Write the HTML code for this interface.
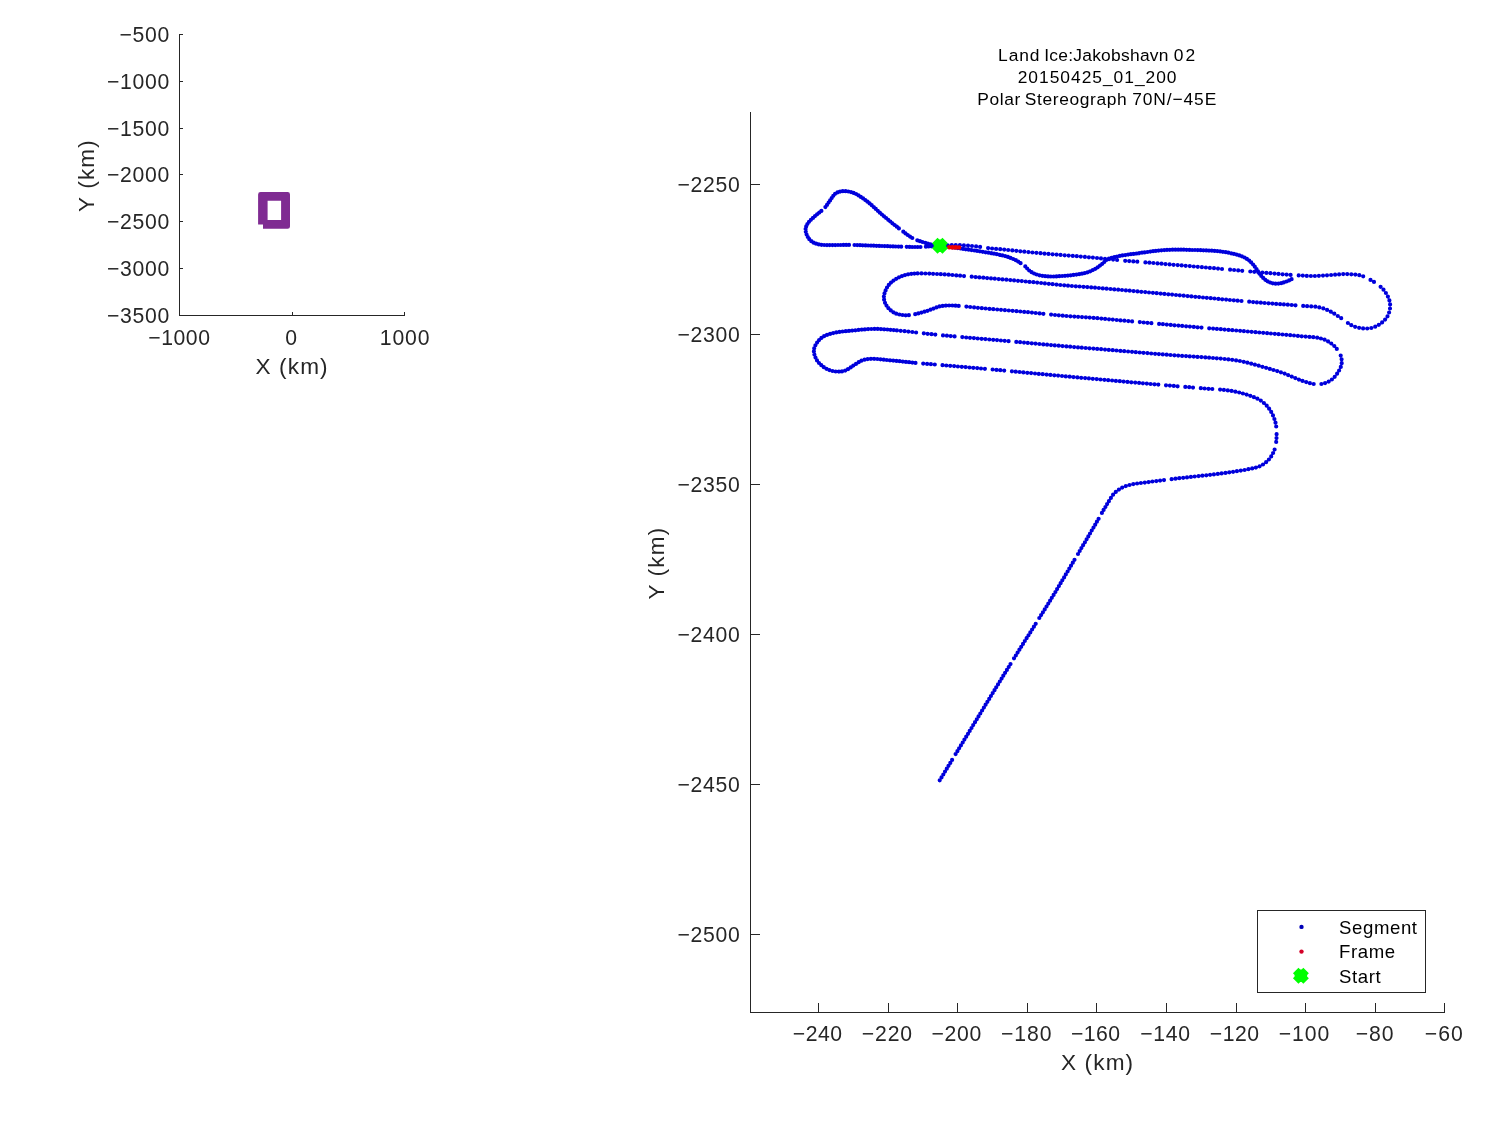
<!DOCTYPE html>
<html><head><meta charset="utf-8"><title>Land Ice: Jakobshavn 02</title>
<style>html,body{margin:0;padding:0;background:#fff;}body{width:1500px;height:1125px;overflow:hidden;}svg{display:block;will-change:transform;font-family:'Liberation Sans', sans-serif;}text{white-space:pre;}</style></head><body>
<svg width="1500" height="1125" viewBox="0 0 1500 1125">
<rect width="1500" height="1125" fill="#fff"/>
<g stroke="#262626" stroke-width="1" fill="none" shape-rendering="crispEdges">
<path d="M179.5 33.9V315.3H405.3"/>
<path d="M179.5 34.4h3.5"/>
<path d="M179.5 81.2h3.5"/>
<path d="M179.5 128.0h3.5"/>
<path d="M179.5 174.9h3.5"/>
<path d="M179.5 221.7h3.5"/>
<path d="M179.5 268.5h3.5"/>
<path d="M179.5 315.3h3.5"/>
<path d="M179.5 315.3v-3.5"/>
<path d="M292.3 315.3v-3.5"/>
<path d="M404.8 315.3v-3.5"/>
</g>
<text x="170.02" y="41.90" font-size="21.20" text-anchor="end" letter-spacing="0.72" fill="#262626">−500</text>
<text x="170.02" y="88.72" font-size="21.20" text-anchor="end" letter-spacing="0.72" fill="#262626">−1000</text>
<text x="170.02" y="135.53" font-size="21.20" text-anchor="end" letter-spacing="0.72" fill="#262626">−1500</text>
<text x="170.02" y="182.35" font-size="21.20" text-anchor="end" letter-spacing="0.72" fill="#262626">−2000</text>
<text x="170.02" y="229.17" font-size="21.20" text-anchor="end" letter-spacing="0.72" fill="#262626">−2500</text>
<text x="170.02" y="275.98" font-size="21.20" text-anchor="end" letter-spacing="0.72" fill="#262626">−3000</text>
<text x="170.02" y="322.80" font-size="21.20" text-anchor="end" letter-spacing="0.72" fill="#262626">−3500</text>
<text x="148.24" y="344.50" font-size="21.20" text-anchor="start" letter-spacing="0.56" fill="#262626">−1000</text>
<text x="285.25" y="344.50" font-size="21.20" text-anchor="start" fill="#262626">0</text>
<text x="379.71" y="344.50" font-size="21.20" text-anchor="start" letter-spacing="0.89" fill="#262626">1000</text>
<text x="292.10" y="373.90" font-size="22.60" text-anchor="middle" letter-spacing="1.15" fill="#262626">X (km)</text>
<text x="94.30" y="175.50" font-size="22.60" text-anchor="middle" letter-spacing="1.15" fill="#262626" transform="rotate(-90 94.30 175.50)">Y (km)</text>
<path fill="#7f2b92" fill-rule="evenodd" d="M260.6 192H287.6Q290 192 290 194.4V226.6Q290 228.8 287.6 228.8H263V224.6H258.1V194.4Q258.1 192 260.6 192ZM267.6 200.7V220.1H281.1V200.7Z"/>
<g stroke="#262626" stroke-width="1" fill="none" shape-rendering="crispEdges">
<path d="M750.5 112.0V1012.3H1445.4"/>
<path d="M750.5 184.3h9.5"/>
<path d="M750.5 334.3h9.5"/>
<path d="M750.5 484.3h9.5"/>
<path d="M750.5 634.3h9.5"/>
<path d="M750.5 784.3h9.5"/>
<path d="M750.5 934.3h9.5"/>
<path d="M818.4 1012.3v-9.5"/>
<path d="M888.0 1012.3v-9.5"/>
<path d="M957.6 1012.3v-9.5"/>
<path d="M1027.2 1012.3v-9.5"/>
<path d="M1096.8 1012.3v-9.5"/>
<path d="M1166.5 1012.3v-9.5"/>
<path d="M1236.1 1012.3v-9.5"/>
<path d="M1305.7 1012.3v-9.5"/>
<path d="M1375.3 1012.3v-9.5"/>
<path d="M1444.9 1012.3v-9.5"/>
</g>
<text x="740.52" y="192.10" font-size="21.20" text-anchor="end" letter-spacing="0.72" fill="#262626">−2250</text>
<text x="740.52" y="342.10" font-size="21.20" text-anchor="end" letter-spacing="0.72" fill="#262626">−2300</text>
<text x="740.52" y="492.10" font-size="21.20" text-anchor="end" letter-spacing="0.72" fill="#262626">−2350</text>
<text x="740.52" y="642.10" font-size="21.20" text-anchor="end" letter-spacing="0.72" fill="#262626">−2400</text>
<text x="740.52" y="792.10" font-size="21.20" text-anchor="end" letter-spacing="0.72" fill="#262626">−2450</text>
<text x="740.52" y="942.10" font-size="21.20" text-anchor="end" letter-spacing="0.72" fill="#262626">−2500</text>
<text x="792.84" y="1041.10" font-size="21.20" text-anchor="start" letter-spacing="0.50" fill="#262626">−240</text>
<text x="861.84" y="1041.10" font-size="21.20" text-anchor="start" letter-spacing="0.83" fill="#262626">−220</text>
<text x="931.44" y="1041.10" font-size="21.20" text-anchor="start" letter-spacing="0.73" fill="#262626">−200</text>
<text x="1000.94" y="1041.10" font-size="21.20" text-anchor="start" letter-spacing="0.93" fill="#262626">−180</text>
<text x="1070.94" y="1041.10" font-size="21.20" text-anchor="start" letter-spacing="0.47" fill="#262626">−160</text>
<text x="1140.24" y="1041.10" font-size="21.20" text-anchor="start" letter-spacing="0.70" fill="#262626">−140</text>
<text x="1209.84" y="1041.10" font-size="21.20" text-anchor="start" letter-spacing="0.53" fill="#262626">−120</text>
<text x="1278.74" y="1041.10" font-size="21.20" text-anchor="start" letter-spacing="0.97" fill="#262626">−100</text>
<text x="1355.74" y="1041.10" font-size="21.20" text-anchor="start" letter-spacing="0.88" fill="#262626">−80</text>
<text x="1424.64" y="1041.10" font-size="21.20" text-anchor="start" letter-spacing="1.13" fill="#262626">−60</text>
<text x="1097.60" y="1070.40" font-size="22.60" text-anchor="middle" letter-spacing="1.15" fill="#262626">X (km)</text>
<text x="664.30" y="563.10" font-size="22.60" text-anchor="middle" letter-spacing="1.15" fill="#262626" transform="rotate(-90 664.30 563.10)">Y (km)</text>
<text x="998.11" y="61.00" font-size="17.40" text-anchor="start" letter-spacing="0.90" fill="#000">Land</text>
<text x="1044.13" y="61.00" font-size="17.40" text-anchor="start" letter-spacing="0.27" fill="#000">Ice:Jakobshavn</text>
<text x="1173.80" y="61.00" font-size="17.40" text-anchor="start" letter-spacing="1.95" fill="#000">02</text>
<text x="1017.73" y="83.00" font-size="17.40" text-anchor="start" letter-spacing="0.98" fill="#000">20150425_01_200</text>
<text x="977.21" y="105.00" font-size="17.40" text-anchor="start" letter-spacing="0.63" fill="#000">Polar</text>
<text x="1024.82" y="105.00" font-size="17.40" text-anchor="start" letter-spacing="0.61" fill="#000">Stereograph</text>
<text x="1132.13" y="105.00" font-size="17.40" text-anchor="start" letter-spacing="0.90" fill="#000">70N/−45E</text>
<path d="M1291.6 279.2h0M1289.1 280.4h0M1286.5 281.5h0M1283.8 282.4h0M1281.2 283.2h0M1278.4 283.6h0M1275.6 283.7h0M1272.8 283.3h0M1270.1 282.5h0M1267.6 281.3h0M1265.3 279.8h0M1263.2 277.9h0M1261.3 275.9h0M1259.5 273.7h0M1258.0 271.3h0M1256.5 269.0h0M1254.8 266.7h0M1253.1 264.5h0M1251.2 262.4h0M1249.2 260.6h0M1246.9 258.9h0M1244.5 257.5h0M1241.9 256.3h0M1239.3 255.4h0M1236.6 254.6h0M1233.9 253.9h0M1231.2 253.3h0M1228.4 252.7h0M1225.7 252.2h0M1222.9 251.8h0M1220.1 251.4h0M1217.3 251.1h0M1214.6 250.9h0M1211.8 250.7h0M1209.0 250.6h0M1206.2 250.4h0M1203.4 250.3h0M1200.6 250.2h0M1197.8 250.1h0M1195.0 250.0h0M1192.2 250.0h0M1189.4 249.9h0M1186.6 249.8h0M1183.8 249.7h0M1181.0 249.7h0M1178.2 249.7h0M1175.4 249.7h0M1172.6 249.7h0M1169.8 249.8h0M1167.0 249.9h0M1164.2 250.1h0M1161.4 250.3h0M1158.6 250.6h0M1155.8 250.9h0M1153.1 251.2h0M1150.3 251.6h0M1147.5 252.0h0M1144.7 252.4h0M1142.0 252.7h0M1139.2 253.1h0M1136.4 253.5h0M1133.6 253.9h0M1130.9 254.2h0M1128.1 254.6h0M1125.3 255.1h0M1122.5 255.4h0M1119.8 255.9h0M1117.0 256.5h0M1114.3 257.2h0M1111.6 257.9h0M1108.9 258.7h0M1106.4 259.9h0M1104.3 261.9h0M1102.3 263.8h0M1100.0 265.6h0M1097.7 267.3h0M1095.3 268.8h0M1092.8 270.1h0M1090.2 271.3h0M1087.5 272.3h0M1084.8 273.1h0M1082.0 273.7h0M1079.2 274.2h0M1076.4 274.6h0M1073.5 274.9h0M1070.7 275.3h0M1067.9 275.6h0M1065.0 275.8h0M1062.2 276.0h0M1059.3 276.2h0M1056.5 276.4h0M1053.7 276.5h0M1050.8 276.5h0M1048.0 276.4h0M1045.1 276.2h0M1042.3 275.8h0M1039.5 275.3h0M1036.7 274.5h0M1034.1 273.5h0M1031.6 272.2h0M1029.2 270.5h0M1027.2 268.5h0M1025.3 266.4h0M1020.6 263.2h0M1018.2 261.6h0M1015.8 260.2h0M1013.2 259.0h0M1010.5 257.9h0M1007.9 256.9h0M1005.1 256.1h0M1002.4 255.4h0M999.6 254.8h0M996.8 254.2h0M994.0 253.7h0M991.2 253.2h0M988.4 252.7h0M985.6 252.3h0M982.8 251.8h0M979.9 251.3h0M977.1 250.9h0M974.3 250.5h0M971.5 250.1h0M968.7 249.7h0M965.8 249.3h0M963.1 248.9h0M960.4 248.5h0M957.7 248.1h0M955.0 247.7h0M952.2 247.3h0M949.5 246.9h0M946.8 246.5h0M944.1 246.2h0M941.3 245.8h0M938.6 245.4h0M935.9 245.1h0M933.2 244.8h0M930.5 244.3h0M927.8 243.6h0M925.2 242.8h0M922.5 242.0h0M919.9 241.2h0M917.3 240.3h0M912.3 238.0h0M910.0 236.6h0M907.7 235.0h0M905.5 233.4h0M903.3 231.7h0M898.9 228.4h0M896.8 226.7h0M894.6 225.0h0M892.4 223.3h0M890.3 221.5h0M888.2 219.8h0M886.1 218.0h0M884.0 216.3h0M881.9 214.5h0M879.8 212.7h0M877.8 210.8h0M875.8 208.9h0M873.7 207.1h0M871.7 205.2h0M869.6 203.4h0M867.5 201.7h0M865.3 200.1h0M863.1 198.4h0M860.8 196.9h0M858.5 195.4h0M856.1 194.0h0M853.6 192.9h0M851.0 192.1h0M848.3 191.5h0M845.6 191.2h0M842.8 191.2h0M840.1 191.6h0M837.5 192.4h0M835.1 193.8h0M833.3 195.8h0M831.7 198.1h0M830.1 200.4h0M828.6 202.6h0M827.0 204.9h0M825.4 207.1h0M821.4 210.9h0M819.3 212.6h0M817.1 214.3h0M815.0 216.1h0M813.0 217.9h0M810.9 219.8h0M809.0 221.8h0M807.4 224.0h0M806.2 226.4h0M805.6 229.1h0M805.8 231.8h0M806.6 234.5h0M807.8 237.0h0M809.3 239.2h0M811.3 241.2h0M813.6 242.7h0M816.1 243.7h0M818.8 244.4h0M821.5 244.8h0M824.2 245.0h0M827.0 245.1h0M829.7 245.1h0M832.5 245.1h0M835.2 245.1h0M838.0 245.0h0M840.7 245.0h0M843.5 244.9h0M846.2 244.9h0M849.0 244.9h0M854.5 245.0h0M857.2 245.1h0M860.0 245.2h0M862.7 245.3h0M865.5 245.4h0M868.2 245.5h0M871.0 245.6h0M873.7 245.7h0M876.5 245.8h0M879.2 245.9h0M882.0 246.0h0M884.7 246.1h0M887.5 246.2h0M890.2 246.3h0M893.0 246.4h0M895.7 246.5h0M898.5 246.6h0M901.2 246.7h0M906.7 246.8h0M909.5 246.9h0M912.2 247.0h0M915.0 247.0h0M917.7 247.0h0M920.5 247.0h0M925.9 246.7h0M928.7 246.5h0M931.4 246.3h0M934.2 246.1h0M936.9 245.9h0M939.7 245.7h0M943.7 245.5h0M947.7 245.3h0M951.8 245.2h0M955.8 245.2h0M959.9 245.2h0M963.9 245.4h0M968.0 245.6h0M972.0 246.0h0M976.1 246.4h0M980.1 246.9h0M988.1 248.1h0M992.1 248.5h0M996.1 248.9h0M1000.2 249.2h0M1004.2 249.6h0M1008.2 250.0h0M1012.3 250.4h0M1016.3 250.8h0M1020.3 251.3h0M1024.3 251.7h0M1028.4 252.1h0M1032.4 252.5h0M1036.4 252.8h0M1040.5 253.2h0M1044.5 253.6h0M1048.5 253.9h0M1052.6 254.3h0M1056.6 254.6h0M1060.6 254.9h0M1064.7 255.3h0M1068.7 255.6h0M1072.8 255.9h0M1076.8 256.2h0M1080.8 256.6h0M1084.9 256.9h0M1088.9 257.3h0M1092.9 257.6h0M1097.0 258.0h0M1101.0 258.4h0M1105.0 258.8h0M1109.1 259.2h0M1113.1 259.6h0M1117.1 260.0h0M1125.2 260.8h0M1129.2 261.1h0M1133.3 261.4h0M1137.3 261.7h0M1145.4 262.4h0M1149.4 262.7h0M1153.4 263.0h0M1157.5 263.4h0M1161.5 263.7h0M1165.5 264.1h0M1169.6 264.4h0M1173.6 264.8h0M1177.7 265.1h0M1181.7 265.4h0M1185.7 265.8h0M1189.8 266.1h0M1193.8 266.5h0M1197.8 266.8h0M1201.9 267.2h0M1205.9 267.5h0M1209.9 267.9h0M1214.0 268.2h0M1218.0 268.6h0M1222.0 269.0h0M1230.1 269.7h0M1234.1 270.0h0M1238.2 270.4h0M1242.2 270.8h0M1250.3 271.5h0M1254.3 271.8h0M1258.3 272.2h0M1262.4 272.5h0M1266.4 272.9h0M1270.4 273.2h0M1274.5 273.6h0M1278.5 273.9h0M1282.6 274.3h0M1286.6 274.6h0M1290.6 274.9h0M1298.7 275.4h0M1302.8 275.6h0M1306.8 275.9h0M1310.9 276.0h0M1314.9 276.0h0M1318.9 275.8h0M1323.0 275.6h0M1327.0 275.3h0M1331.1 275.0h0M1335.1 274.7h0M1339.1 274.4h0M1343.2 274.1h0M1347.2 274.1h0M1351.3 274.3h0M1355.3 274.6h0M1359.3 275.2h0M1363.2 276.3h0M1370.5 279.9h0M1374.0 281.9h0M1380.6 286.8h0M1383.5 289.7h0M1385.9 293.0h0M1387.9 296.6h0M1389.4 300.4h0M1390.1 304.4h0M1390.0 308.5h0M1389.1 312.5h0M1387.5 316.3h0M1385.1 319.6h0M1382.1 322.4h0M1378.8 324.8h0M1375.2 326.7h0M1371.3 328.0h0M1367.2 328.5h0M1363.1 328.4h0M1359.1 327.8h0M1355.1 326.8h0M1351.3 325.2h0M1347.9 323.0h0M1341.2 318.2h0M1337.8 316.0h0M1334.3 313.7h0M1330.8 311.7h0M1327.1 309.9h0M1323.3 308.4h0M1319.3 307.4h0M1315.3 306.7h0M1311.2 306.4h0M1307.1 306.2h0M1303.2 305.9h0M1295.5 305.3h0M1291.7 305.0h0M1287.8 304.7h0M1283.9 304.4h0M1280.1 304.2h0M1276.2 303.9h0M1272.4 303.6h0M1268.5 303.3h0M1264.6 303.0h0M1260.8 302.7h0M1256.9 302.4h0M1253.1 302.1h0M1249.2 301.7h0M1241.5 301.0h0M1237.6 300.7h0M1233.8 300.3h0M1229.9 300.0h0M1226.1 299.6h0M1222.2 299.3h0M1218.4 298.9h0M1214.5 298.5h0M1210.7 298.2h0M1206.8 297.8h0M1203.0 297.5h0M1199.1 297.1h0M1195.3 296.8h0M1191.4 296.4h0M1187.6 296.1h0M1183.7 295.7h0M1179.8 295.3h0M1176.0 295.0h0M1172.1 294.6h0M1168.3 294.3h0M1164.4 293.9h0M1160.6 293.6h0M1156.7 293.2h0M1152.9 292.8h0M1149.0 292.5h0M1145.2 292.1h0M1141.3 291.8h0M1137.5 291.4h0M1133.6 291.1h0M1129.7 290.7h0M1125.9 290.4h0M1122.0 290.0h0M1118.2 289.7h0M1114.3 289.4h0M1110.5 289.0h0M1106.6 288.7h0M1102.8 288.4h0M1098.9 288.0h0M1095.0 287.7h0M1091.2 287.4h0M1087.3 287.1h0M1083.5 286.8h0M1079.6 286.5h0M1075.8 286.3h0M1071.9 286.0h0M1068.0 285.7h0M1064.2 285.3h0M1060.3 285.0h0M1056.5 284.6h0M1052.6 284.2h0M1048.8 283.8h0M1044.9 283.4h0M1041.1 283.0h0M1037.2 282.6h0M1033.4 282.2h0M1029.5 281.9h0M1025.7 281.5h0M1021.8 281.1h0M1018.0 280.8h0M1014.1 280.4h0M1010.3 280.1h0M1006.4 279.7h0M1002.5 279.4h0M998.7 279.1h0M994.8 278.7h0M991.0 278.4h0M987.1 278.1h0M983.3 277.7h0M979.4 277.4h0M975.6 277.1h0M971.7 276.7h0M964.0 276.1h0M960.1 275.7h0M956.3 275.4h0M952.4 275.0h0M948.6 274.7h0M944.7 274.4h0M940.8 274.2h0M937.0 274.0h0M933.1 273.8h0M929.3 273.6h0M925.4 273.5h0M921.5 273.4h0M917.6 273.4h0M914.4 273.6h0M911.3 273.8h0M908.1 274.3h0M905.0 275.1h0M902.0 276.1h0M899.0 277.3h0M896.2 278.8h0M893.5 280.6h0M891.0 282.6h0M888.8 284.9h0M887.0 287.5h0M885.6 290.4h0M884.5 293.4h0M883.9 296.6h0M884.1 299.7h0M885.0 302.8h0M886.5 305.6h0M888.4 308.2h0M890.8 310.4h0M893.4 312.3h0M896.2 313.7h0M899.3 314.5h0M902.5 315.0h0M905.7 315.3h0M908.9 315.2h0M915.2 314.2h0M918.3 313.4h0M921.4 312.6h0M924.5 311.7h0M927.5 310.8h0M930.5 309.7h0M933.5 308.6h0M936.5 307.4h0M939.5 306.4h0M942.7 305.9h0M945.9 305.6h0M949.1 305.5h0M952.3 305.5h0M955.5 305.7h0M958.7 305.9h0M966.4 306.6h0M970.2 307.0h0M974.1 307.4h0M977.9 307.8h0M981.8 308.2h0M985.6 308.5h0M989.5 308.9h0M993.3 309.2h0M997.2 309.5h0M1001.0 309.8h0M1004.9 310.2h0M1008.8 310.5h0M1012.6 310.8h0M1016.5 311.2h0M1020.3 311.5h0M1024.2 311.9h0M1028.0 312.2h0M1031.9 312.6h0M1035.7 313.0h0M1039.6 313.4h0M1043.4 313.8h0M1051.1 314.6h0M1055.0 315.0h0M1058.8 315.3h0M1062.7 315.7h0M1066.5 316.0h0M1070.4 316.3h0M1074.3 316.6h0M1078.1 316.8h0M1082.0 317.1h0M1085.9 317.3h0M1089.7 317.6h0M1093.6 317.9h0M1097.4 318.2h0M1101.3 318.6h0M1105.1 318.9h0M1109.0 319.3h0M1112.8 319.6h0M1116.7 320.0h0M1120.5 320.4h0M1124.4 320.7h0M1128.3 321.1h0M1132.1 321.4h0M1139.8 322.1h0M1143.7 322.5h0M1147.5 322.8h0M1151.4 323.2h0M1159.1 323.9h0M1162.9 324.2h0M1166.8 324.6h0M1170.7 324.9h0M1174.5 325.3h0M1178.4 325.6h0M1182.2 325.9h0M1186.1 326.3h0M1189.9 326.6h0M1193.8 326.9h0M1197.6 327.3h0M1201.5 327.6h0M1209.2 328.3h0M1213.1 328.6h0M1216.9 328.9h0M1220.8 329.2h0M1224.6 329.6h0M1228.5 329.9h0M1232.3 330.2h0M1236.2 330.5h0M1240.1 330.8h0M1243.9 331.2h0M1247.8 331.5h0M1251.6 331.8h0M1255.5 332.2h0M1259.3 332.5h0M1263.2 332.8h0M1267.1 333.2h0M1270.9 333.5h0M1274.8 333.8h0M1278.6 334.2h0M1282.5 334.5h0M1286.3 334.8h0M1290.2 335.2h0M1294.0 335.5h0M1297.9 335.9h0M1301.7 336.3h0M1305.6 336.6h0M1309.5 336.9h0M1313.3 337.2h0M1317.2 337.7h0M1320.9 338.5h0M1324.6 339.7h0M1328.1 341.4h0M1331.3 343.5h0M1334.3 346.0h0M1336.8 348.9h0M1340.7 355.6h0M1341.6 359.3h0M1341.7 363.2h0M1340.8 366.9h0M1339.1 370.5h0M1337.1 373.7h0M1334.7 376.8h0M1331.9 379.5h0M1328.7 381.6h0M1325.1 383.1h0M1321.4 384.0h0M1313.7 384.0h0M1309.9 383.2h0M1306.2 382.1h0M1302.5 380.9h0M1298.9 379.6h0M1295.3 378.1h0M1291.7 376.6h0M1288.1 375.1h0M1284.6 373.6h0M1280.9 372.3h0M1277.2 371.1h0M1273.5 370.0h0M1269.8 368.9h0M1266.1 367.8h0M1262.4 366.8h0M1258.7 365.7h0M1254.9 364.7h0M1251.2 363.7h0M1247.4 362.7h0M1243.7 361.8h0M1239.9 361.0h0M1236.1 360.4h0M1232.2 359.8h0M1228.4 359.4h0M1224.6 359.0h0M1220.7 358.6h0M1216.8 358.3h0M1213.0 358.0h0M1209.1 357.7h0M1205.3 357.4h0M1201.4 357.1h0M1197.5 356.9h0M1193.7 356.6h0M1189.8 356.4h0M1186.0 356.1h0M1182.1 355.9h0M1178.2 355.6h0M1174.4 355.3h0M1170.5 355.0h0M1166.7 354.7h0M1162.8 354.4h0M1158.9 354.1h0M1155.1 353.8h0M1151.2 353.5h0M1147.4 353.1h0M1143.5 352.8h0M1139.7 352.5h0M1135.8 352.2h0M1132.0 351.8h0M1128.1 351.5h0M1124.2 351.2h0M1120.4 350.9h0M1116.5 350.5h0M1112.7 350.2h0M1108.8 349.9h0M1105.0 349.6h0M1101.1 349.2h0M1097.2 348.9h0M1093.4 348.6h0M1089.5 348.3h0M1085.7 348.0h0M1081.8 347.7h0M1078.0 347.4h0M1074.1 347.1h0M1070.2 346.7h0M1066.4 346.4h0M1062.5 346.1h0M1058.7 345.7h0M1054.8 345.4h0M1051.0 345.1h0M1047.1 344.7h0M1043.3 344.4h0M1039.4 344.0h0M1035.5 343.6h0M1031.7 343.3h0M1027.8 342.9h0M1024.0 342.6h0M1020.1 342.2h0M1016.3 341.9h0M1008.6 341.2h0M1004.7 340.8h0M1000.9 340.5h0M997.0 340.1h0M993.2 339.8h0M989.3 339.5h0M985.4 339.1h0M981.6 338.8h0M977.7 338.5h0M973.9 338.1h0M970.0 337.8h0M966.2 337.5h0M962.3 337.1h0M954.6 336.4h0M950.7 336.1h0M946.9 335.7h0M943.0 335.4h0M935.3 334.6h0M931.5 334.2h0M927.6 333.8h0M923.8 333.3h0M916.1 332.5h0M912.3 332.0h0M908.4 331.6h0M904.6 331.2h0M900.7 330.8h0M896.9 330.4h0M893.7 330.1h0M890.5 329.8h0M887.3 329.5h0M884.1 329.3h0M880.9 329.1h0M877.7 328.9h0M874.5 328.9h0M871.3 329.0h0M868.1 329.1h0M864.9 329.4h0M861.8 329.6h0M858.6 329.9h0M855.4 330.3h0M852.2 330.6h0M849.0 330.9h0M845.8 331.2h0M842.6 331.5h0M839.5 331.9h0M836.3 332.4h0M833.2 333.1h0M830.1 333.9h0M827.0 334.9h0M824.1 336.2h0M821.4 337.9h0M819.1 340.1h0M817.1 342.6h0M815.4 345.3h0M814.2 348.3h0M813.9 351.4h0M814.4 354.6h0M815.5 357.6h0M817.0 360.4h0M819.0 363.0h0M821.3 365.2h0M823.8 367.2h0M826.5 368.8h0M829.4 370.1h0M832.5 371.0h0M835.7 371.5h0M838.9 371.6h0M842.0 371.4h0M845.2 370.6h0M848.0 369.2h0M850.7 367.4h0M853.3 365.6h0M856.0 363.9h0M858.7 362.2h0M861.5 360.7h0M864.6 359.7h0M867.7 359.1h0M870.9 358.8h0M874.1 358.8h0M877.3 359.0h0M880.5 359.3h0M883.7 359.7h0M886.8 360.0h0M890.0 360.3h0M893.2 360.6h0M896.4 360.9h0M899.6 361.2h0M902.8 361.6h0M905.9 361.9h0M909.1 362.2h0M912.3 362.6h0M915.5 362.9h0M923.2 363.6h0M927.1 363.9h0M930.9 364.2h0M934.8 364.5h0M942.5 365.2h0M946.3 365.5h0M950.2 365.8h0M954.1 366.1h0M957.9 366.5h0M961.8 366.8h0M965.6 367.1h0M969.5 367.5h0M973.3 367.8h0M977.2 368.1h0M981.0 368.5h0M984.9 368.8h0M992.6 369.5h0M996.5 369.9h0M1000.3 370.2h0M1004.2 370.6h0M1011.9 371.3h0M1015.7 371.7h0M1019.6 372.0h0M1023.4 372.4h0M1027.3 372.8h0M1031.1 373.1h0M1035.0 373.5h0M1038.8 373.9h0M1042.7 374.2h0M1046.6 374.6h0M1050.4 374.9h0M1054.3 375.3h0M1058.1 375.6h0M1062.0 376.0h0M1065.8 376.4h0M1069.7 376.7h0M1073.5 377.1h0M1077.4 377.4h0M1081.2 377.8h0M1085.1 378.1h0M1088.9 378.4h0M1092.8 378.8h0M1096.7 379.1h0M1100.5 379.5h0M1104.4 379.8h0M1108.2 380.2h0M1112.1 380.5h0M1115.9 380.9h0M1119.8 381.2h0M1123.6 381.6h0M1127.5 381.9h0M1131.3 382.3h0M1135.2 382.6h0M1139.1 382.9h0M1142.9 383.3h0M1146.8 383.6h0M1150.6 384.0h0M1154.5 384.3h0M1158.3 384.6h0M1166.0 385.3h0M1169.9 385.6h0M1173.8 385.9h0M1177.6 386.3h0M1185.3 386.9h0M1189.2 387.2h0M1193.0 387.6h0M1200.8 388.2h0M1204.6 388.5h0M1208.5 388.8h0M1212.3 389.0h0M1220.1 389.6h0M1223.9 389.9h0M1227.8 390.4h0M1231.6 390.9h0M1235.4 391.7h0M1239.2 392.5h0M1242.9 393.5h0M1246.6 394.6h0M1250.3 395.8h0M1253.9 397.2h0M1257.4 398.7h0M1260.8 400.6h0M1263.9 403.0h0M1266.7 405.7h0M1269.1 408.7h0M1271.2 411.9h0M1273.0 415.4h0M1274.4 419.0h0M1275.5 422.7h0M1276.2 426.5h0M1276.6 434.2h0M1276.5 438.1h0M1276.2 441.9h0M1274.6 449.5h0M1273.1 453.0h0M1271.2 456.4h0M1268.9 459.5h0M1266.1 462.2h0M1263.0 464.5h0M1259.6 466.3h0M1255.9 467.6h0M1252.2 468.4h0M1248.4 469.2h0M1244.6 470.0h0M1240.8 470.6h0M1236.9 471.2h0M1233.1 471.8h0M1229.3 472.3h0M1225.5 472.9h0M1221.6 473.4h0M1217.8 473.9h0M1213.9 474.4h0M1210.1 474.8h0M1206.3 475.3h0M1202.4 475.7h0M1198.6 476.1h0M1194.7 476.5h0M1190.9 476.9h0M1187.0 477.4h0M1183.2 477.8h0M1179.3 478.2h0M1175.5 478.7h0M1171.6 479.2h0M1164.0 480.1h0M1160.1 480.6h0M1156.3 481.1h0M1152.4 481.5h0M1148.6 482.1h0M1144.8 482.6h0M1140.9 483.0h0M1137.1 483.5h0M1133.3 484.1h0M1129.5 485.0h0M1125.8 486.1h0M1122.2 487.6h0M1118.9 489.6h0M1115.8 491.9h0M1113.1 494.7h0M1110.9 497.9h0M1108.9 501.2h0M1107.1 504.1h0M1105.4 507.0h0M1103.6 509.9h0M1101.9 512.9h0M1098.6 518.8h0M1096.9 521.7h0M1095.2 524.7h0M1093.5 527.6h0M1091.7 530.5h0M1090.0 533.5h0M1088.3 536.4h0M1086.6 539.3h0M1084.9 542.3h0M1083.1 545.2h0M1081.4 548.1h0M1079.7 551.0h0M1078.0 554.0h0M1074.5 559.8h0M1072.8 562.7h0M1071.0 565.7h0M1069.3 568.6h0M1067.6 571.5h0M1065.8 574.4h0M1064.1 577.4h0M1062.3 580.3h0M1060.6 583.2h0M1058.9 586.1h0M1057.1 589.1h0M1055.4 592.0h0M1053.6 594.9h0M1051.8 597.8h0M1050.1 600.7h0M1048.3 603.6h0M1046.5 606.5h0M1044.7 609.4h0M1042.9 612.3h0M1041.1 615.1h0M1039.3 618.0h0M1035.7 623.8h0M1033.9 626.7h0M1032.1 629.5h0M1030.3 632.4h0M1028.5 635.3h0M1026.6 638.2h0M1024.8 641.0h0M1023.0 643.9h0M1021.2 646.8h0M1019.4 649.7h0M1017.6 652.6h0M1015.8 655.5h0M1014.0 658.3h0M1010.5 664.1h0M1008.7 667.0h0M1006.9 669.9h0M1005.1 672.8h0M1003.3 675.7h0M1001.6 678.6h0M999.8 681.5h0M998.0 684.4h0M996.2 687.3h0M994.5 690.2h0M992.7 693.1h0M990.9 696.0h0M989.2 698.9h0M987.4 701.8h0M985.6 704.7h0M983.9 707.6h0M982.1 710.5h0M980.3 713.5h0M978.5 716.4h0M976.8 719.3h0M975.0 722.2h0M973.2 725.1h0M971.5 728.0h0M969.7 730.9h0M968.0 733.8h0M966.2 736.7h0M964.4 739.6h0M962.7 742.5h0M960.9 745.4h0M959.1 748.3h0M957.4 751.2h0M955.6 754.1h0M952.1 759.9h0M950.3 762.9h0M948.5 765.8h0M946.8 768.7h0M945.0 771.6h0M943.3 774.5h0M941.5 777.4h0M939.7 780.3h0" fill="none" stroke="#0000dc" stroke-width="4.2" stroke-linecap="round"/>
<path d="M949.2 247.3h0M952.5 247.4h0M955.8 247.4h0M959.1 247.5h0" fill="none" stroke="#f00000" stroke-width="4.6" stroke-linecap="round"/>
<path d="M934.80 240.60L945.20 251.00M934.80 251.00L945.20 240.60" stroke="#00ff00" stroke-width="7.8" fill="none"/><circle cx="940.00" cy="245.80" r="6.3" fill="#00ff00"/>
<rect x="1257.5" y="910.5" width="168" height="82" fill="#fff" stroke="#262626" stroke-width="1" shape-rendering="crispEdges"/>
<circle cx="1301.5" cy="926.9" r="2.2" fill="#0000b8"/>
<circle cx="1301.5" cy="951.6" r="2.2" fill="#d40028"/>
<path d="M1295.70 970.50L1306.10 980.90M1295.70 980.90L1306.10 970.50" stroke="#00ff00" stroke-width="7.8" fill="none"/><circle cx="1300.90" cy="975.70" r="6.3" fill="#00ff00"/>
<text x="1339.00" y="933.90" font-size="18.60" text-anchor="start" letter-spacing="0.60" fill="#000">Segment</text>
<text x="1339.00" y="958.30" font-size="18.60" text-anchor="start" letter-spacing="0.60" fill="#000">Frame</text>
<text x="1339.00" y="982.70" font-size="18.60" text-anchor="start" letter-spacing="0.60" fill="#000">Start</text>
</svg></body></html>
